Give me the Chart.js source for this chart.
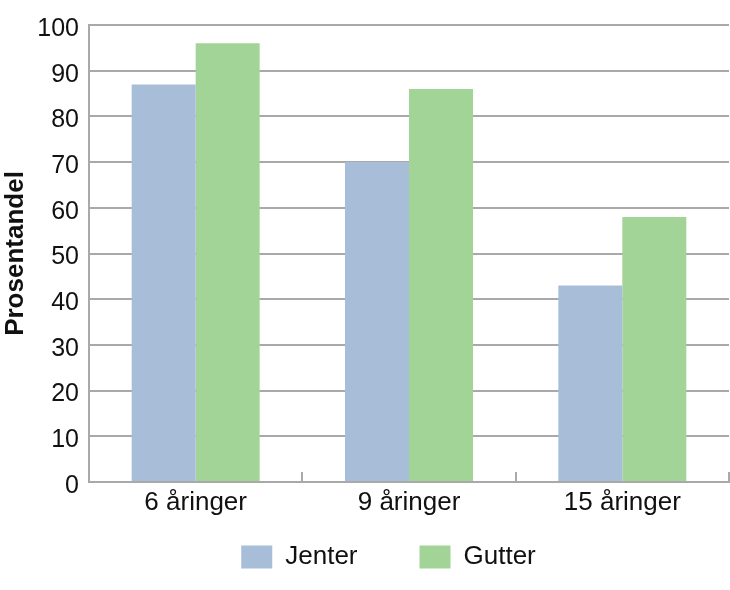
<!DOCTYPE html>
<html>
<head>
<meta charset="utf-8">
<script src="https://cdn.jsdelivr.net/npm/chart.js@4"></script>
<style>
  html, body { margin: 0; padding: 0; background: #fff; }
  #wrap { width: 730px; height: 590px; }
</style>
</head>
<body>
<div id="wrap"><canvas id="barChart" width="730" height="590"></canvas></div>
<script>
// data
const categories = ['6 åringer', '9 åringer', '15 åringer'];
const jenter = [87, 70, 43];
const gutter = [96, 86, 58];
const yTicks = [0, 10, 20, 30, 40, 50, 60, 70, 80, 90, 100];

const gridGray = '#a9a9a9';
const font = 'Liberation Sans, Arial, sans-serif';

// legend sits right under the x labels and a bit right of centre in the original
const legendNudge = {
    id: 'legendNudge',
    afterLayout(chart) {
        const lg = chart.legend;
        if (!lg) return;
        lg.top -= 40; lg.bottom -= 40;
        lg.left += 24; lg.right += 24;
    }
};

let ctx = document.getElementById('barChart').getContext('2d');
let chart = new Chart(ctx, {
    type: 'bar',
    data: {
        labels: categories,
        datasets: [
            { label: 'Jenter', data: jenter, backgroundColor: '#a7bdd8', borderWidth: 0 },
            { label: 'Gutter', data: gutter, backgroundColor: '#a3d497', borderWidth: 0 }
        ]
    },
    plugins: [legendNudge],
    options: {
        responsive: false,
        animation: false,
        layout: { padding: { top: 25, right: 1, left: 0, bottom: -30 } },
        datasets: { bar: { categoryPercentage: 0.6, barPercentage: 1.0 } },
        scales: {
            x: {
                grid: { offset: true, drawOnChartArea: false, tickLength: -10, color: gridGray, lineWidth: 2 },
                border: { color: gridGray, width: 2 },
                ticks: { color: '#111', padding: 15, maxRotation: 0, font: { family: font, size: 26 } },
                afterFit: (s) => { s.height = 40; }
            },
            y: {
                min: 0,
                max: 100,
                afterBuildTicks: (s) => { s.ticks = yTicks.map(v => ({ value: v })); },
                grid: { drawTicks: false, color: gridGray, lineWidth: 2 },
                border: { color: gridGray, width: 2 },
                ticks: { color: '#111', padding: 10, labelOffset: 4, font: { family: font, size: 25 } },
                title: {
                    display: true,
                    text: 'Prosentandel',
                    color: '#111',
                    padding: { top: 0, bottom: 0 },
                    font: { family: font, size: 26, weight: 'bold' }
                },
                afterFit: (s) => { s.width = 89; }
            }
        },
        plugins: {
            legend: {
                position: 'bottom',
                labels: {
                    boxWidth: 31,
                    boxHeight: 23,
                    padding: 62,
                    color: '#111',
                    font: { family: font, size: 26 }
                }
            },
            tooltip: { enabled: false }
        }
    }
});
</script>
</body>
</html>
